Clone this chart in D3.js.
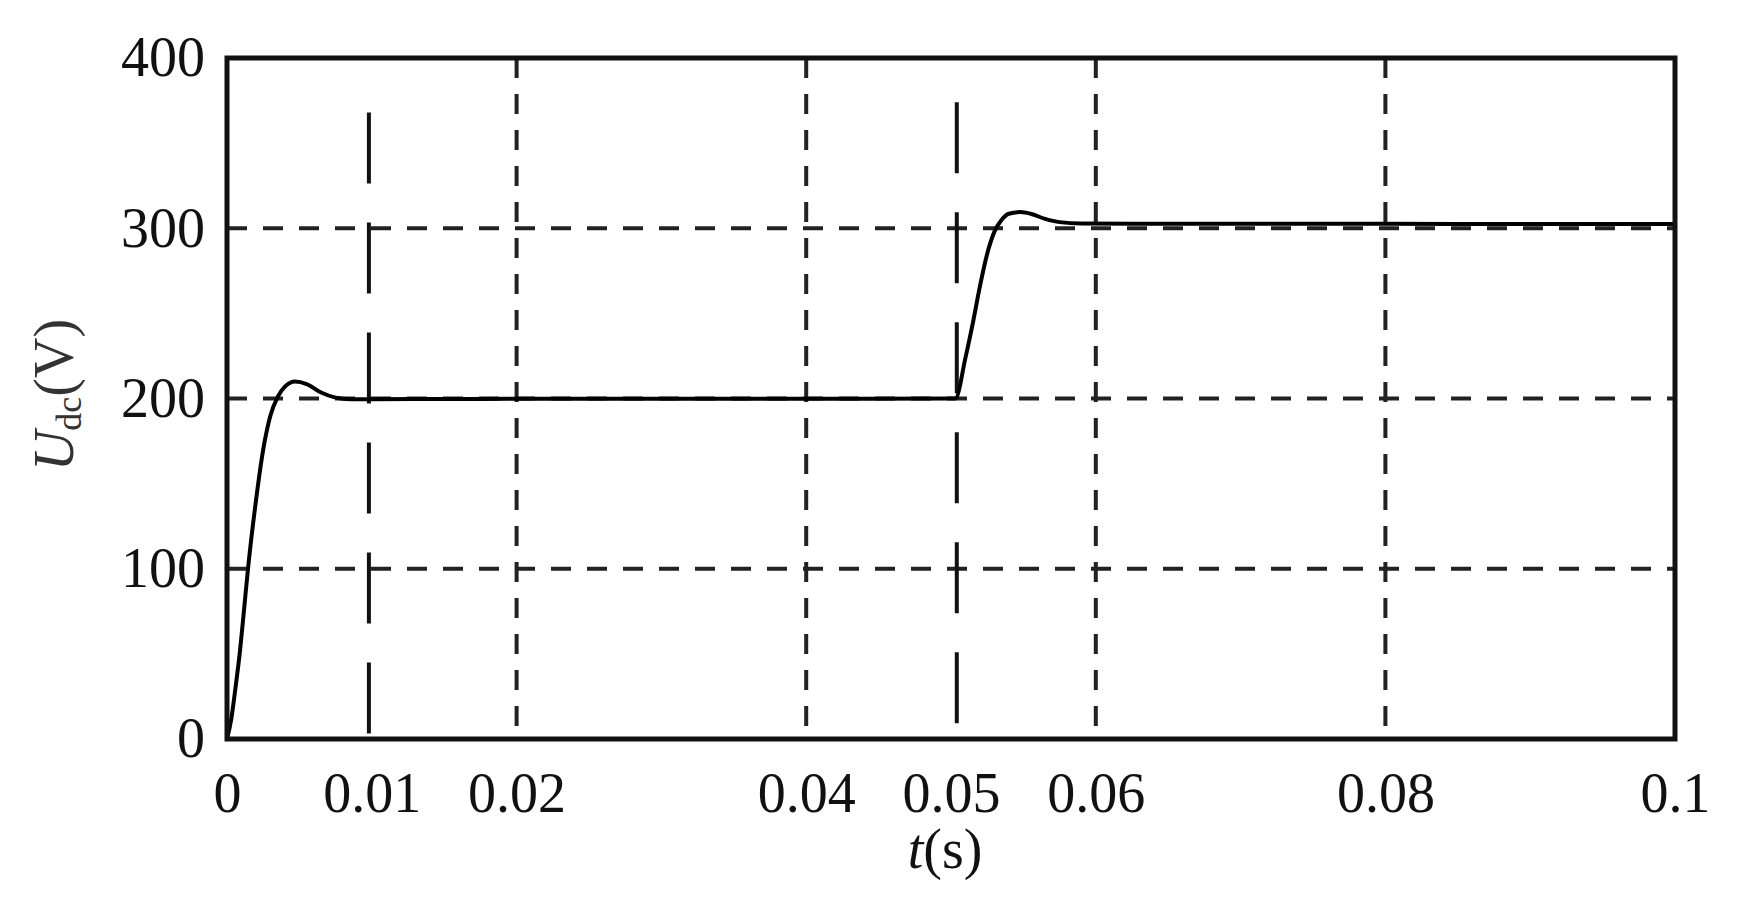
<!DOCTYPE html>
<html>
  <head>
    <script src="https://d3js.org/d3.v7.min.js"></script>
    <style>
      body { margin: 0; background: #fff; }
      text { font-family: "Liberation Serif", "Times New Roman", serif; fill: #111; }
    </style>
  </head>
  <body>
    <svg id="chart" width="1739" height="916"></svg>

    <script>
      // time (s) and Udc (V)
      const tValues = [0, 0.0003, 0.0006, 0.0009, 0.0012, 0.00145, 0.002, 0.0025, 0.003, 0.0035,
        0.004, 0.0047, 0.0055, 0.0065, 0.0075, 0.0085, 0.01, 0.02, 0.03, 0.04, 0.0503,
        0.051, 0.0515, 0.052, 0.0525, 0.053, 0.0535, 0.054, 0.0548, 0.0555, 0.0565, 0.0575,
        0.059, 0.07, 0.08, 0.09, 0.1];
      const udcValues = [0, 12, 31, 52, 78, 100, 140, 170, 190, 201,
        207, 210, 208.5, 203.5, 200.5, 199.6, 199.6, 199.8, 199.8, 199.8, 200,
        224, 244, 266, 285, 298, 305, 308.5, 309.5, 308.5, 305.5, 303.6,
        302.8, 302.6, 302.6, 302.5, 302.5];

      // event markers (long dashes)
      const markerT = [0.0098, 0.0504];
      const markerTop = [368, 374];

      const xTicks = [0, 0.01, 0.02, 0.04, 0.05, 0.06, 0.08, 0.1];
      const xTickLabels = ["0", "0.01", "0.02", "0.04", "0.05", "0.06", "0.08", "0.1"];
      const yTicks = [0, 100, 200, 300, 400];
      const xGrid = [0.02, 0.04, 0.06, 0.08];
      const yGrid = [100, 200, 300];

      // plot box (top/left are window props, so other names)
      var pL = 227, pR = 1675, pT = 58, pB = 739;

      var svg = d3.select("#chart");

      var x = d3.scaleLinear().domain([0, 0.1]).range([pL, pR]);
      var y = d3.scaleLinear().domain([0, 400]).range([pB, pT]);

      // grid
      svg.append("g").selectAll("line")
        .data(xGrid).enter().append("line")
        .attr("x1", d => x(d)).attr("x2", d => x(d))
        .attr("y1", pT).attr("y2", pB)
        .attr("stroke", "#222").attr("stroke-width", 4)
        .attr("stroke-dasharray", "20,16");

      svg.append("g").selectAll("line")
        .data(yGrid).enter().append("line")
        .attr("x1", pL).attr("x2", pR)
        .attr("y1", d => y(d)).attr("y2", d => y(d))
        .attr("stroke", "#222").attr("stroke-width", 4)
        .attr("stroke-dasharray", "20,16");

      // markers
      svg.append("g").selectAll("line")
        .data(markerT).enter().append("line")
        .attr("x1", d => x(d)).attr("x2", d => x(d))
        .attr("y1", (d, i) => y(markerTop[i])).attr("y2", y(0))
        .attr("stroke", "#111").attr("stroke-width", 4)
        .attr("stroke-dasharray", "71,39");

      // curve
      var pts = tValues.map((t, i) => [t, udcValues[i]]);
      var line = d3.line()
        .x(d => x(d[0]))
        .y(d => y(d[1]))
        .curve(d3.curveMonotoneX);

      svg.append("path")
        .datum(pts)
        .attr("d", line)
        .attr("fill", "none")
        .attr("stroke", "#000")
        .attr("stroke-width", 4);

      // frame
      svg.append("rect")
        .attr("x", pL).attr("y", pT)
        .attr("width", pR - pL).attr("height", pB - pT)
        .attr("fill", "none").attr("stroke", "#111").attr("stroke-width", 5);

      // axes
      var xAxis = d3.axisBottom(x).tickValues(xTicks)
        .tickFormat((d, i) => xTickLabels[i]).tickSize(0);
      var gx = svg.append("g").attr("transform", "translate(0," + pB + ")").call(xAxis);
      gx.select(".domain").remove();
      gx.selectAll("text").attr("y", 73).attr("dy", 0)
        .style("font-size", "56px").style("font-family", "Liberation Serif, Times New Roman, serif")
        .attr("fill", "#111");

      var yAxis = d3.axisLeft(y).tickValues(yTicks).tickSize(0).tickPadding(22);
      var gy = svg.append("g").attr("transform", "translate(" + pL + ",0)").call(yAxis);
      gy.select(".domain").remove();
      gy.selectAll("text")
        .style("font-size", "56px").style("font-family", "Liberation Serif, Times New Roman, serif")
        .attr("fill", "#111");

      // axis titles
      var xt = svg.append("text")
        .attr("x", 945).attr("y", 868)
        .attr("text-anchor", "middle")
        .style("font-size", "56px");
      xt.append("tspan").style("font-style", "italic").text("t");
      xt.append("tspan").text("(s)");

      var yt = svg.append("text")
        .attr("transform", "translate(73,395) rotate(-90)")
        .attr("text-anchor", "middle")
        .style("font-size", "56px")
        .style("fill", "#333");
      yt.append("tspan").style("font-style", "italic").text("U");
      yt.append("tspan").attr("dy", 8).style("font-size", "36px").text("dc");
      yt.append("tspan").attr("dy", -8).text("(V)");
    </script>
  </body>
</html>
